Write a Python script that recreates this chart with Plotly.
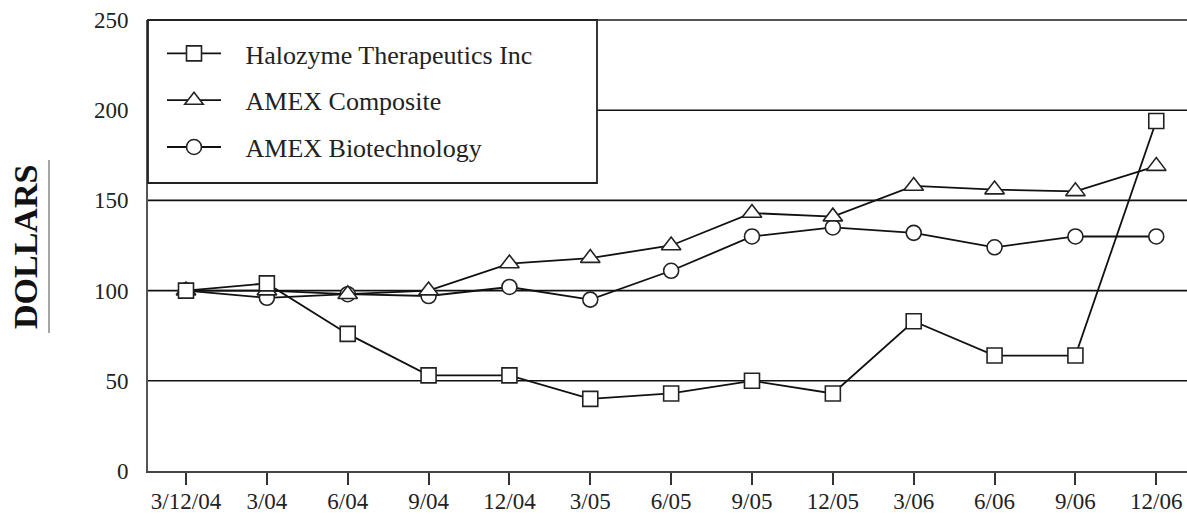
import plotly.graph_objects as go

categories = ["3/12/04", "3/04", "6/04", "9/04", "12/04", "3/05", "6/05",
              "9/05", "12/05", "3/06", "6/06", "9/06", "12/06"]
halozyme = [100, 104, 76, 53, 53, 40, 43, 50, 43, 83, 64, 64, 194]
amex_composite = [100, 100, 98, 100, 115, 118, 125, 143, 141, 158, 156, 155, 169]
amex_biotech = [100, 96, 98, 97, 102, 95, 111, 130, 135, 132, 124, 130, 130]
series_names = ["Halozyme Therapeutics Inc", "AMEX Composite", "AMEX Biotechnology"]
y_ticks = [0, 50, 100, 150, 200, 250]

FONT = "Liberation Serif"
W, H = 1187, 514
L, R, T, B = 148, 0, 20, 43
pw, ph = W - L - R, H - T - B

def px_x(x):
    return (x - L) / pw

def px_y(y):
    return (H - B - y) / ph

NB = "\u00a0" * 3

fig = go.Figure()
specs = [
    (amex_biotech, series_names[2], "circle", 15, 3),
    (amex_composite, series_names[1], "triangle-up", 17, 2),
    (halozyme, series_names[0], "square", 15, 1),
]
for vals, name, sym, sz, rank in specs:
    fig.add_trace(go.Scatter(
        x=categories, y=vals, name=NB + name, mode="lines+markers",
        legendrank=rank, legendgroup=name,
        line=dict(color="#111", width=1.8),
        marker=dict(symbol=sym, size=sz, color="white",
                    line=dict(color="#222", width=1.6)),
    ))

# gridlines across the plot
for v in [50, 100, 150, 200]:
    fig.add_shape(type="line", xref="paper", yref="y", x0=0, x1=1, y0=v, y1=v,
                  line=dict(color="#111", width=1.6), layer="below")

# top border line
fig.add_shape(type="line", xref="paper", yref="paper", x0=0, x1=1, y0=1, y1=1,
              line=dict(color="#555", width=2))

# legend box (white, covering the 200 grid line)
fig.add_shape(type="rect", xref="paper", yref="paper",
              x0=0, x1=px_x(597), y0=px_y(183), y1=1,
              fillcolor="white", line=dict(color="#222", width=1.8), layer="above")

# Y axis title underline
fig.add_shape(type="line", xref="paper", yref="paper",
              x0=px_x(49), x1=px_x(49), y0=px_y(333), y1=px_y(160),
              line=dict(color="#888", width=1.5))

fig.add_annotation(text="<b>DOLLARS</b>", xref="paper", yref="paper",
                   x=px_x(25), y=px_y(247), textangle=-90, showarrow=False,
                   font=dict(family=FONT, size=34, color="#111"),
                   xanchor="center", yanchor="middle")

fig.update_layout(
    width=W, height=H,
    margin=dict(l=L, r=R, t=T, b=B, autoexpand=False),
    paper_bgcolor="white", plot_bgcolor="white",
    font=dict(family=FONT, color="#222"),
    showlegend=True,
    legend=dict(
        x=px_x(162), y=px_y(30), xanchor="left", yanchor="top",
        bgcolor="rgba(0,0,0,0)", borderwidth=0,
        traceorder="grouped", tracegroupgap=10,
        itemwidth=54,
        font=dict(family=FONT, size=26, color="#222"),
    ),
    xaxis=dict(
        type="category", range=[-0.47, 12.38], automargin=False,
        showgrid=False, zeroline=False,
        showline=True, linecolor="#444", linewidth=2,
        ticks="outside", ticklen=12, tickwidth=1.5, tickcolor="#333",
        ticklabelstandoff=-4,
        tickfont=dict(family=FONT, size=23, color="#222"),
    ),
    yaxis=dict(
        range=[0, 250], tickvals=y_ticks, automargin=False,
        showgrid=False, zeroline=False,
        showline=True, linecolor="#555", linewidth=2,
        ticks="", ticklabelstandoff=13,
        tickfont=dict(family=FONT, size=23, color="#222"),
    ),
)

fig.write_html("out.html", config={"displayModeBar": False},
               post_script="document.body.style.margin='0';document.body.style.padding='0';")
